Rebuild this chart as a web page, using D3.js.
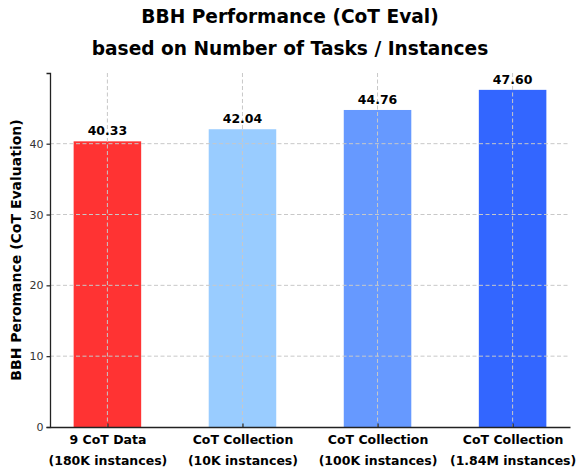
<!DOCTYPE html>
<html>
<head>
<meta charset="utf-8">
<script src="https://cdn.jsdelivr.net/npm/d3@7"></script>
<style>
  body { margin: 0; background: #fff; }
  svg text { font-family: "DejaVu Sans", sans-serif; }
</style>
</head>
<body>
<div id="chart"></div>
<script>
const categories = [
  ['9 CoT Data', '(180K instances)'],
  ['CoT Collection', '(10K instances)'],
  ['CoT Collection', '(100K instances)'],
  ['CoT Collection', '(1.84M instances)']
];
const scores = [40.33, 42.04, 44.76, 47.60];
const barColors = ['#ff3333', '#99ccff', '#6699ff', '#3366ff'];
const yTicks = [0, 10, 20, 30, 40];
const titleLines = ['BBH Performance (CoT Eval)', 'based on Number of Tasks / Instances'];

const W = 576, H = 470;
const M = { top: 73, right: 6, bottom: 43, left: 50 };
const innerW = W - M.left - M.right;
const innerH = H - M.top - M.bottom;

const svg = d3.select('#chart').append('svg')
  .attr('width', W).attr('height', H);

const g = svg.append('g').attr('transform', `translate(${M.left},${M.top})`);

const x = d3.scaleLinear().domain([-0.425, categories.length - 1 + 0.425]).range([0, innerW]);
const y = d3.scaleLinear().domain([0, d3.max(scores) * 1.05]).range([innerH, 0]);
const bw = x(0.5) - x(0);

// bars
g.selectAll('rect.bar').data(scores).join('rect')
  .attr('class', 'bar')
  .attr('x', (d, i) => x(i) - bw / 2)
  .attr('width', bw)
  .attr('y', (d) => y(d))
  .attr('height', (d) => innerH - y(d))
  .attr('fill', (d, i) => barColors[i]);

// grid over bars
const grid = g.append('g').attr('stroke', '#c8c8c8').attr('stroke-width', 1)
  .attr('stroke-dasharray', '4,2.5');
grid.selectAll('line.h').data(yTicks.slice(1)).join('line')
  .attr('x1', 0).attr('x2', innerW)
  .attr('y1', (d) => y(d)).attr('y2', (d) => y(d));
grid.selectAll('line.v').data(scores).join('line')
  .attr('x1', (d, i) => x(i)).attr('x2', (d, i) => x(i))
  .attr('y1', 0).attr('y2', innerH);

// value labels
g.selectAll('text.val').data(scores).join('text')
  .attr('x', (d, i) => x(i))
  .attr('y', (d) => y(d) - 6)
  .attr('text-anchor', 'middle')
  .attr('font-size', 12.5).attr('font-weight', 'bold').attr('fill', '#000')
  .text((d) => d.toFixed(2));

// y axis
const yAxis = g.append('g')
  .call(d3.axisLeft(y).tickValues(yTicks).tickSize(3.5).tickPadding(3));
yAxis.select('.domain').attr('stroke', '#222').attr('stroke-width', 1.3);
yAxis.selectAll('.tick line').attr('stroke', '#222').attr('stroke-width', 1.2);
yAxis.selectAll('.tick text').attr('font-size', 11).attr('fill', '#333')
  .attr('font-family', '"DejaVu Sans", sans-serif');

// x axis
const xAxis = g.append('g').attr('transform', `translate(0,${innerH})`)
  .call(d3.axisBottom(x).tickValues(d3.range(categories.length)).tickSize(-3.5).tickSizeOuter(0).tickFormat(''));
xAxis.select('.domain').attr('stroke', '#222').attr('stroke-width', 1.3);
xAxis.selectAll('.tick line').attr('stroke', '#222').attr('stroke-width', 1.2);
xAxis.selectAll('.tick').each(function (d) {
  const t = d3.select(this).append('text')
    .attr('text-anchor', 'middle').attr('fill', '#000')
    .attr('font-size', 12.5).attr('font-weight', 'bold')
    .attr('font-family', '"DejaVu Sans", sans-serif');
  categories[d].forEach((line, k) => {
    t.append('tspan').attr('x', 0).attr('y', 17 + k * 21).text(line);
  });
});

// y label
svg.append('text')
  .attr('transform', `translate(21,${M.top + innerH / 2}) rotate(-90)`)
  .attr('text-anchor', 'middle')
  .attr('font-size', 14).attr('font-weight', 'bold')
  .text('BBH Peromance (CoT Evaluation)');

// title
svg.selectAll('text.title').data(titleLines).join('text')
  .attr('class', 'title')
  .attr('x', 290).attr('y', (d, i) => 23 + i * 31.5)
  .attr('text-anchor', 'middle')
  .attr('font-size', 18.6).attr('font-weight', 'bold')
  .text((d) => d);
</script>
</body>
</html>
